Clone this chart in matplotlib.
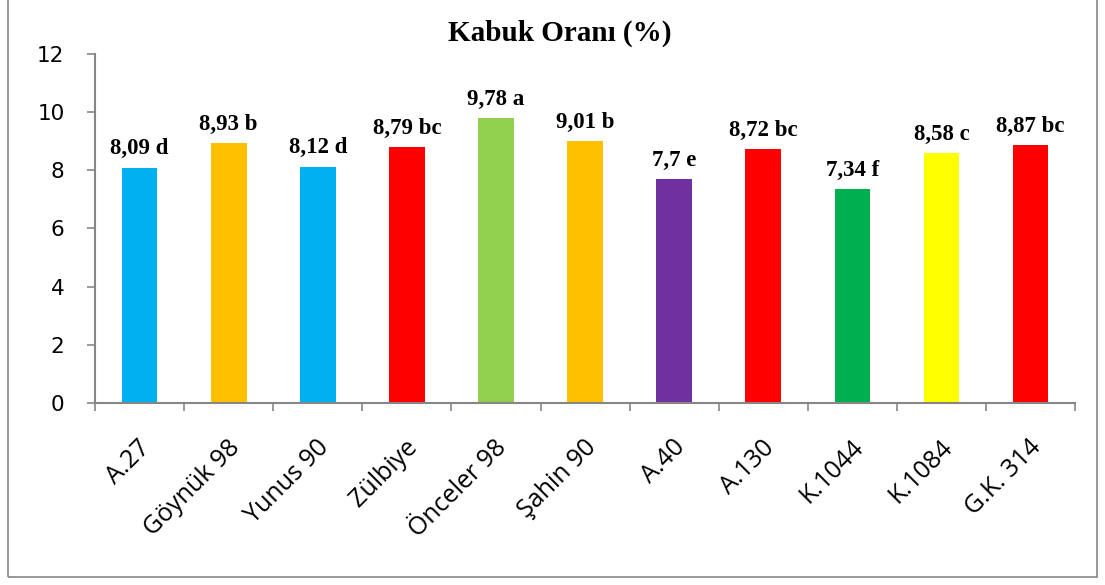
import matplotlib.pyplot as plt
from matplotlib.patches import Rectangle

# veriler
cesitler = ['A.27', 'Göynük 98', 'Yunus 90', 'Zülbiye', 'Önceler 98', 'Şahin 90',
            'A.40', 'A.130', 'K.1044', 'K.1084', 'G.K. 314']
kabuk_orani = [8.09, 8.93, 8.12, 8.79, 9.78, 9.01, 7.7, 8.72, 7.34, 8.58, 8.87]
harfler = ['d', 'b', 'd', 'bc', 'a', 'b', 'e', 'bc', 'f', 'c', 'bc']
renkler = ['#00B0F0', '#FFC000', '#00B0F0', '#FF0000', '#92D050', '#FFC000',
           '#7030A0', '#FF0000', '#00B050', '#FFFF00', '#FF0000']
y_ticks = [0, 2, 4, 6, 8, 10, 12]

gri = '#868686'

fig = plt.figure(figsize=(11.05, 5.85), dpi=100)
ax = fig.add_axes([0.086, 0.311, 0.887, 0.597])

x = range(len(cesitler))
ax.bar(x, kabuk_orani, width=0.4, color=renkler)

# bar ustu etiketler
for i, (v, h) in enumerate(zip(kabuk_orani, harfler)):
    etiket = str(v).replace('.', ',') + ' ' + h
    ax.annotate(etiket, (i, v), xytext=(0, 6), textcoords='offset points',
                ha='center', va='bottom', fontsize=16.5, fontweight='bold',
                family='Liberation Serif')

ax.set_xlim(-0.5, len(cesitler) - 0.5)
ax.set_ylim(0, 12)
ax.set_yticks(y_ticks)
ax.tick_params(axis='y', labelsize=15.5, color=gri, length=6, width=1.2, pad=16)

# kategori sinirlarinda tick
ax.set_xticks([i - 0.5 for i in range(len(cesitler) + 1)], minor=False)
ax.set_xticklabels([])
ax.tick_params(axis='x', color=gri, length=6, width=1.2)
for i, ad in enumerate(cesitler):
    ax.text(i - 0.02, -1.1, ad, rotation=45, ha='right', va='top',
            rotation_mode='anchor', fontsize=18, family='Open Sans')

for s in ['top', 'right']:
    ax.spines[s].set_visible(False)
for s in ['left', 'bottom']:
    ax.spines[s].set_color(gri)
    ax.spines[s].set_linewidth(1.5)

fig.text(0.507, 0.943, 'Kabuk Oranı (%)', ha='center', va='center',
         fontsize=21, fontweight='bold', family='Liberation Serif')

# dis cerceve
fig.patches.append(Rectangle((0.007, 0.013), 0.986, 1.2, transform=fig.transFigure,
                             fill=False, edgecolor=gri, linewidth=1.2))

fig.savefig('out.png', dpi=100)
